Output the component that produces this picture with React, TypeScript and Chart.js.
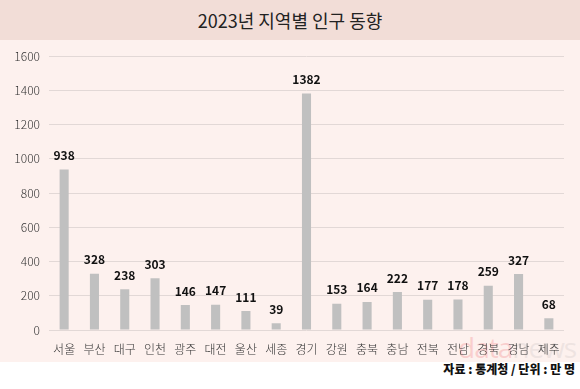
import React, { useEffect, useRef } from "react";
import { Chart, registerables } from "chart.js";

Chart.register(...registerables);

const categories = ["서울", "부산", "대구", "인천", "광주", "대전", "울산", "세종", "경기", "강원", "충북", "충남", "전북", "전남", "경북", "경남", "제주"];
const population = [938, 328, 238, 303, 146, 147, 111, 39, 1382, 153, 164, 222, 177, 178, 259, 327, 68];
const yTicks = [0, 200, 400, 600, 800, 1000, 1200, 1400, 1600];

const FONT = "'Noto Sans CJK KR', 'Noto Sans', sans-serif";

const valueLabels = {
  id: "valueLabels",
  afterDatasetsDraw(chart: any) {
    const ctx = chart.ctx;
    const meta = chart.getDatasetMeta(0);
    ctx.save();
    ctx.font = `bold 12px ${FONT}`;
    ctx.fillStyle = "#111";
    ctx.textAlign = "center";
    ctx.textBaseline = "bottom";
    meta.data.forEach((bar: any, i: number) => {
      ctx.fillText(String(population[i]), bar.x, bar.y - 8);
    });
    ctx.restore();
  },
};

export default function App() {
  const ref = useRef<HTMLCanvasElement>(null);
  useEffect(() => {
    document.body.style.margin = "0";
    const chart = new Chart(ref.current!, {
      type: "bar",
      data: {
        labels: categories,
        datasets: [
          {
            data: population,
            backgroundColor: "#c0c0c0",
            barPercentage: 0.3,
            categoryPercentage: 1,
          },
        ],
      },
      options: {
        animation: false,
        responsive: false,
        maintainAspectRatio: false,
        layout: { padding: { top: 9, right: 16, left: 0, bottom: 0 } },
        plugins: { legend: { display: false }, tooltip: { enabled: false }, title: { display: false } },
        scales: {
          x: {
            grid: { display: false },
            border: { display: false },
            ticks: { color: "#333", font: { family: FONT, size: 12, weight: 300 as any }, padding: 4, maxRotation: 0, autoSkip: false },
            afterFit(scale: any) {
              scale.height = 32;
            },
          },
          y: {
            min: 0,
            max: 1600,
            afterBuildTicks(scale: any) {
              scale.ticks = yTicks.map((v) => ({ value: v }));
            },
            grid: { color: "#e2d8d6", lineWidth: 1, drawTicks: false },
            border: { display: false },
            ticks: {
              color: "#333",
              font: { family: FONT, size: 12, weight: 300 as any },
              padding: 9,
              callback: (v: any) => String(v),
            },
            afterFit(scale: any) {
              scale.width = 49;
            },
          },
        },
      },
      plugins: [valueLabels],
    });
    return () => chart.destroy();
  }, []);

  return (
    <div style={{ width: 580, height: 389, position: "relative", background: "#fff", fontFamily: FONT, overflow: "hidden" }}>
      <div style={{ height: 40, background: "#f2ddd7", color: "#222", fontSize: 18, lineHeight: "40px", textAlign: "center" }}>
        2023년 지역별 인구 동향
      </div>
      <div style={{ height: 322, background: "#fdf1ee", position: "relative", overflow: "hidden" }}>
        <div style={{ position: "absolute", left: 458, top: 290, fontSize: 28, fontFamily: "'Open Sans', sans-serif", letterSpacing: -1, lineHeight: "34px" }}>
          <span style={{ color: "#e8202a", opacity: 0.16 }}>data</span>
          <span style={{ color: "#888", opacity: 0.12 }}>news</span>
        </div>
        <canvas ref={ref} width={580} height={322} style={{ position: "absolute", left: 0, top: 0 }} />
      </div>
      <div style={{ height: 27, textAlign: "right", paddingRight: 5, fontWeight: 900, fontSize: 12, color: "#111", lineHeight: "14px", paddingTop: 0 }}>
        자료 : 통계청 / 단위 : 만 명
      </div>
    </div>
  );
}
